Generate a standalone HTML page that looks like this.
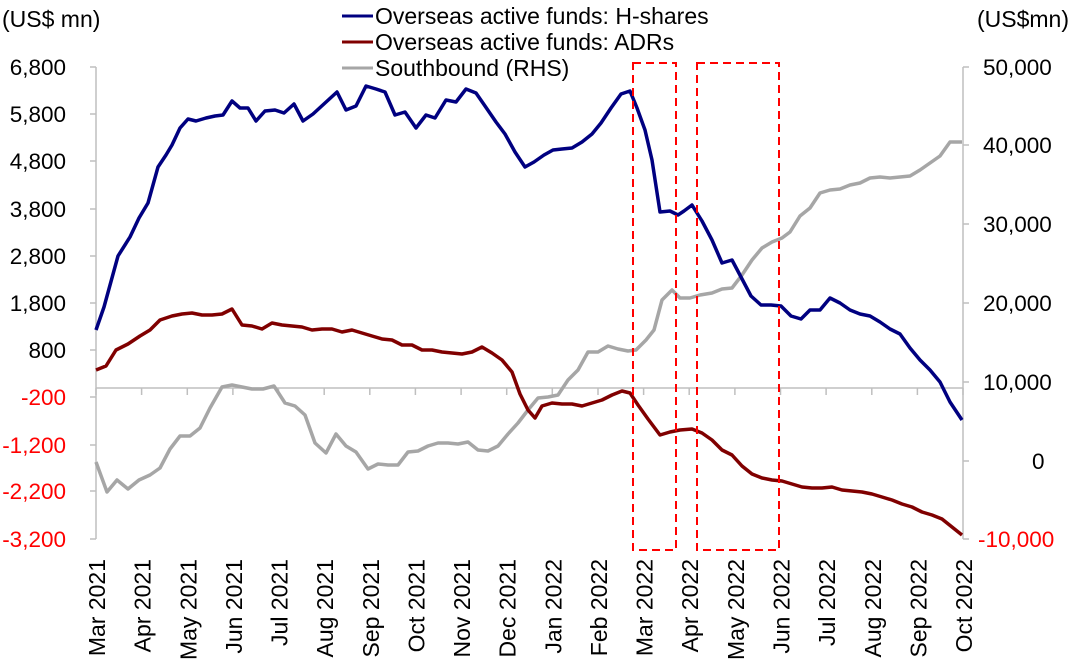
<!DOCTYPE html>
<html><head><meta charset="utf-8"><style>
body{margin:0;background:#fff;}
svg{display:block;font-family:"Liberation Sans",Arial,sans-serif;}
</style></head><body>
<svg width="1080" height="667" viewBox="0 0 1080 667" xmlns="http://www.w3.org/2000/svg">
<g font-size="23" fill="#000">
<text x="2" y="27">(US$ mn)</text>
<text x="977" y="27">(US$mn)</text>
</g>
<!-- legend -->
<g stroke-width="3">
<line x1="342" y1="16" x2="373" y2="16" stroke="#000080"/>
<line x1="342" y1="42" x2="373" y2="42" stroke="#800000"/>
<line x1="342" y1="68" x2="373" y2="68" stroke="#a6a6a6"/>
</g>
<g font-size="23" fill="#000">
<text x="375" y="24">Overseas active funds: H-shares</text>
<text x="375" y="50">Overseas active funds: ADRs</text>
<text x="375" y="76">Southbound (RHS)</text>
</g>
<!-- axes -->
<g stroke="#bfbfbf" stroke-width="1.5" fill="none">
<line x1="96" y1="67" x2="96" y2="539"/>
<line x1="963" y1="67" x2="963" y2="539"/>
<line x1="96" y1="388" x2="963" y2="388"/>
<path d="M90 67H96M90 114H96M90 161H96M90 209H96M90 256H96M90 303H96M90 350H96M90 397H96M90 445H96M90 491H96M90 539H96"/>
<path d="M963 67H969M963 145H969M963 224H969M963 303H969M963 382H969M963 461H969M963 539H969"/>
<path d="M96 388v7M141.6 388v7M187.3 388v7M232.9 388v7M278.5 388v7M324.2 388v7M369.8 388v7M415.4 388v7M461.1 388v7M506.7 388v7M552.3 388v7M598 388v7M643.6 388v7M689.2 388v7M734.9 388v7M780.5 388v7M826.1 388v7M871.8 388v7M917.4 388v7M963 388v7"/>
</g>
<g font-size="22.5" text-anchor="end">
<text x="66" y="75">6,800</text>
<text x="66" y="122">5,800</text>
<text x="66" y="169">4,800</text>
<text x="66" y="217">3,800</text>
<text x="66" y="264">2,800</text>
<text x="66" y="311">1,800</text>
<text x="66" y="358">800</text>
<g fill="#ff0000">
<text x="66" y="405">-200</text>
<text x="66" y="453">-1,200</text>
<text x="66" y="499">-2,200</text>
<text x="66" y="547">-3,200</text>
</g>
</g>
<g font-size="22.5" text-anchor="start">
<text x="983" y="75">50,000</text>
<text x="983" y="153">40,000</text>
<text x="983" y="232">30,000</text>
<text x="983" y="311">20,000</text>
<text x="983" y="390">10,000</text>
<text x="1032" y="469">0</text>
<text x="978" y="547" fill="#ff0000">-10,000</text>
</g>
<g font-size="23" text-anchor="end">
<text transform="translate(105,559) rotate(-90)">Mar 2021</text>
<text transform="translate(150.6,559) rotate(-90)">Apr 2021</text>
<text transform="translate(196.3,559) rotate(-90)">May 2021</text>
<text transform="translate(241.9,559) rotate(-90)">Jun 2021</text>
<text transform="translate(287.5,559) rotate(-90)">Jul 2021</text>
<text transform="translate(333.2,559) rotate(-90)">Aug 2021</text>
<text transform="translate(378.8,559) rotate(-90)">Sep 2021</text>
<text transform="translate(424.4,559) rotate(-90)">Oct 2021</text>
<text transform="translate(470.1,559) rotate(-90)">Nov 2021</text>
<text transform="translate(515.7,559) rotate(-90)">Dec 2021</text>
<text transform="translate(561.3,559) rotate(-90)">Jan 2022</text>
<text transform="translate(607,559) rotate(-90)">Feb 2022</text>
<text transform="translate(652.6,559) rotate(-90)">Mar 2022</text>
<text transform="translate(698.2,559) rotate(-90)">Apr 2022</text>
<text transform="translate(743.9,559) rotate(-90)">May 2022</text>
<text transform="translate(789.5,559) rotate(-90)">Jun 2022</text>
<text transform="translate(835.1,559) rotate(-90)">Jul 2022</text>
<text transform="translate(880.8,559) rotate(-90)">Aug 2022</text>
<text transform="translate(926.4,559) rotate(-90)">Sep 2022</text>
<text transform="translate(972,559) rotate(-90)">Oct 2022</text>
</g>
<!-- series -->
<g fill="none" stroke-width="3.5" stroke-linejoin="round">
<polyline stroke="#a6a6a6" points="96,462 107,492 117,480 128,489 139,480 150,475 160,468 170,449 180,436 190,436 200,428 210,408 222,387 232,385 242,387 252,389 263,389 274,386 285,403 295,406 305,415 315,443 326,453 336,434 346,446 356,452 368,469 378,464 388,465 398,465 408,452 418,451 428,446 438,443 448,443 458,444 468,442 478,450 488,451 498,446 508,434 518,423 528,410 538,398 548,397 558,395 568,380 578,370 588,352 598,352 608,346 618,349 628,351 636,350 646,340 654,330 662,300 672,290 680,298 690,298 700,295 712,293 722,289 732,288 742,275 752,260 762,248 772,242 782,238 790,232 800,216 810,208 820,193 830,190 840,189 850,185 860,183 870,178 880,177 890,178 900,177 910,176 920,170 930,163 940,156 950,142 962,142"/>
<polyline stroke="#800000" points="96,370 106,366 116,350 128,344 140,336 150,330 160,320 172,316 182,314 192,313 202,315 212,315 222,314 232,309 242,325 252,326 262,329 272,323 282,325 292,326 302,327 312,330 322,329 332,329 342,332 352,330 362,333 372,336 382,339 392,340 402,345 412,345 422,350 432,350 442,352 452,353 462,354 472,352 482,347 492,353 502,360 512,372 520,394 528,410 535,418 542,406 552,403 562,404 572,404 582,406 592,403 602,400 612,395 622,391 630,393 638,405 648,419 660,435 670,432 680,430 692,429 702,433 712,440 722,450 732,455 742,466 752,474 762,478 772,480 782,481 792,484 802,487 812,488 822,488 832,487 842,490 852,491 862,492 872,494 882,497 892,500 902,504 912,507 922,512 932,515 942,519 952,527 962,535"/>
<polyline stroke="#000080" points="96,330 104,307 118,256 130,237 139,218 148,203 158,167 166,155 172,145 180,128 188,119 196,121 206,118 215,116 223,115 232,101 240,108 248,108 256,121 265,111 275,110 284,113 294,104 303,121 313,114 325,103 337,92 346,110 356,106 366,86 376,89 385,92 395,115 405,112 416,128 426,115 435,118 446,100 456,102 466,89 476,93 485,106 496,122 505,134 515,152 525,167 534,162 544,155 553,150 562,149 572,148 582,142 592,134 601,123 611,108 621,94 630,91 637,108 645,130 652,160 660,212 670,211 678,215 684,211 692,205 702,221 712,240 722,263 732,260 741,277 751,296 761,305 771,305 781,306 791,316 801,319 810,310 820,310 830,298 840,303 850,310 860,314 870,316 880,322 890,329 900,334 910,348 920,360 930,370 940,382 950,402 962,420"/>
</g>
<g fill="none" stroke="#ff0000" stroke-width="2" stroke-dasharray="8,5">
<rect x="633" y="63" width="43" height="487"/>
<rect x="697" y="63" width="82" height="487"/>
</g>
</svg>
</body></html>
